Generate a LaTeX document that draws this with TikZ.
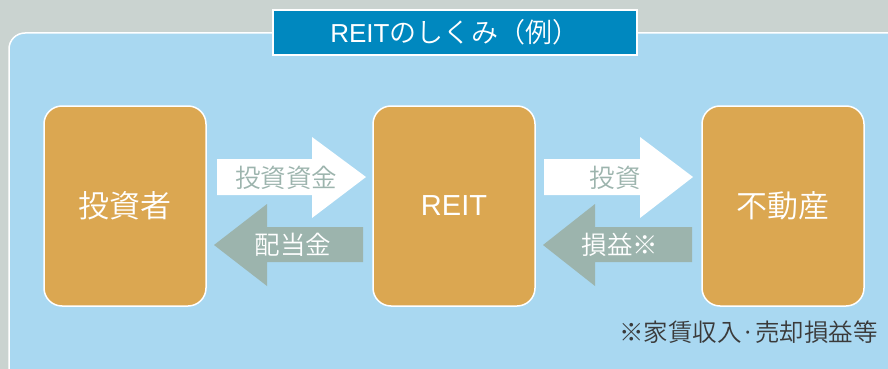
\documentclass[tikz,border=0pt]{standalone}
\usepackage{fontspec}
\setmainfont{Noto Sans CJK JP DemiLight}
\newfontfamily\latinfont{Liberation Sans}
\definecolor{bggray}{HTML}{CAD3D0}
\definecolor{panelblue}{HTML}{A9D8F1}
\definecolor{titleblue}{HTML}{0088BF}
\definecolor{boxorange}{HTML}{DBA751}
\definecolor{arrowgray}{HTML}{9CB4AD}
\definecolor{notegray}{HTML}{3A3A3A}
\begin{document}
\begin{tikzpicture}[x=1pt,y=-1pt,
  entity/.style={draw=white,line width=1.5pt,fill=boxorange,rounded corners=18pt,
    minimum width=162pt,minimum height=200pt,inner sep=0pt,text=white,font=\fontsize{31}{34}\selectfont},
  fwdarrow/.style={fill=white},
  backarrow/.style={fill=arrowgray},
  fwdlabel/.style={text=arrowgray,font=\fontsize{25.5}{28}\selectfont,inner sep=0pt},
  backlabel/.style={text=white,font=\fontsize{25.5}{28}\selectfont,inner sep=0pt}]
\useasboundingbox (0,0) rectangle (888,369);
\fill[bggray] (0,0) rectangle (888,369);
\draw[draw=white,line width=1.5pt,fill=panelblue,rounded corners=16pt] (9,33) rectangle (910,390);
\node[draw=white,line width=1.2pt,fill=titleblue,minimum width=364pt,minimum height=45pt,inner sep=0pt,
  text=white,font=\fontsize{27}{30}\selectfont] (title) at (455,32.5) {{\latinfont\fontsize{26}{30}\selectfont REIT}のしくみ（例）};
\node[entity] (investor) at (125,206) {投資者};
\node[entity] (reit) at (454,206) {\latinfont\fontsize{29}{34}\selectfont REIT};
\node[entity] (estate) at (783,206) {不動産};
% arrows investor <-> REIT
\fill[fwdarrow] (217,159) -- (312,159) -- (312,137) -- (366,177) -- (312,218) -- (312,195) -- (217,195) -- cycle;
\fill[backarrow] (363,227) -- (267,227) -- (267,204) -- (214,245) -- (267,286) -- (267,262) -- (363,262) -- cycle;
\node[fwdlabel] (l1) at (286,178) {投資資金};
\node[backlabel] (l2) at (293,245) {配当金};
% arrows REIT <-> estate
\fill[fwdarrow] (544,159) -- (640,159) -- (640,137) -- (693,177) -- (640,218) -- (640,195) -- (544,195) -- cycle;
\fill[backarrow] (692,227) -- (595,227) -- (595,204) -- (543,245) -- (595,286) -- (595,262) -- (692,262) -- cycle;
\node[fwdlabel] (l3) at (615,178) {投資};
\node[backlabel] (l4) at (620,245) {損益※};
\node[anchor=east,text=notegray,font=\fontsize{24.5}{27}\selectfont,inner sep=0pt] (note) at (878,332) {※家賃収入·売却損益等};
\end{tikzpicture}
\end{document}
